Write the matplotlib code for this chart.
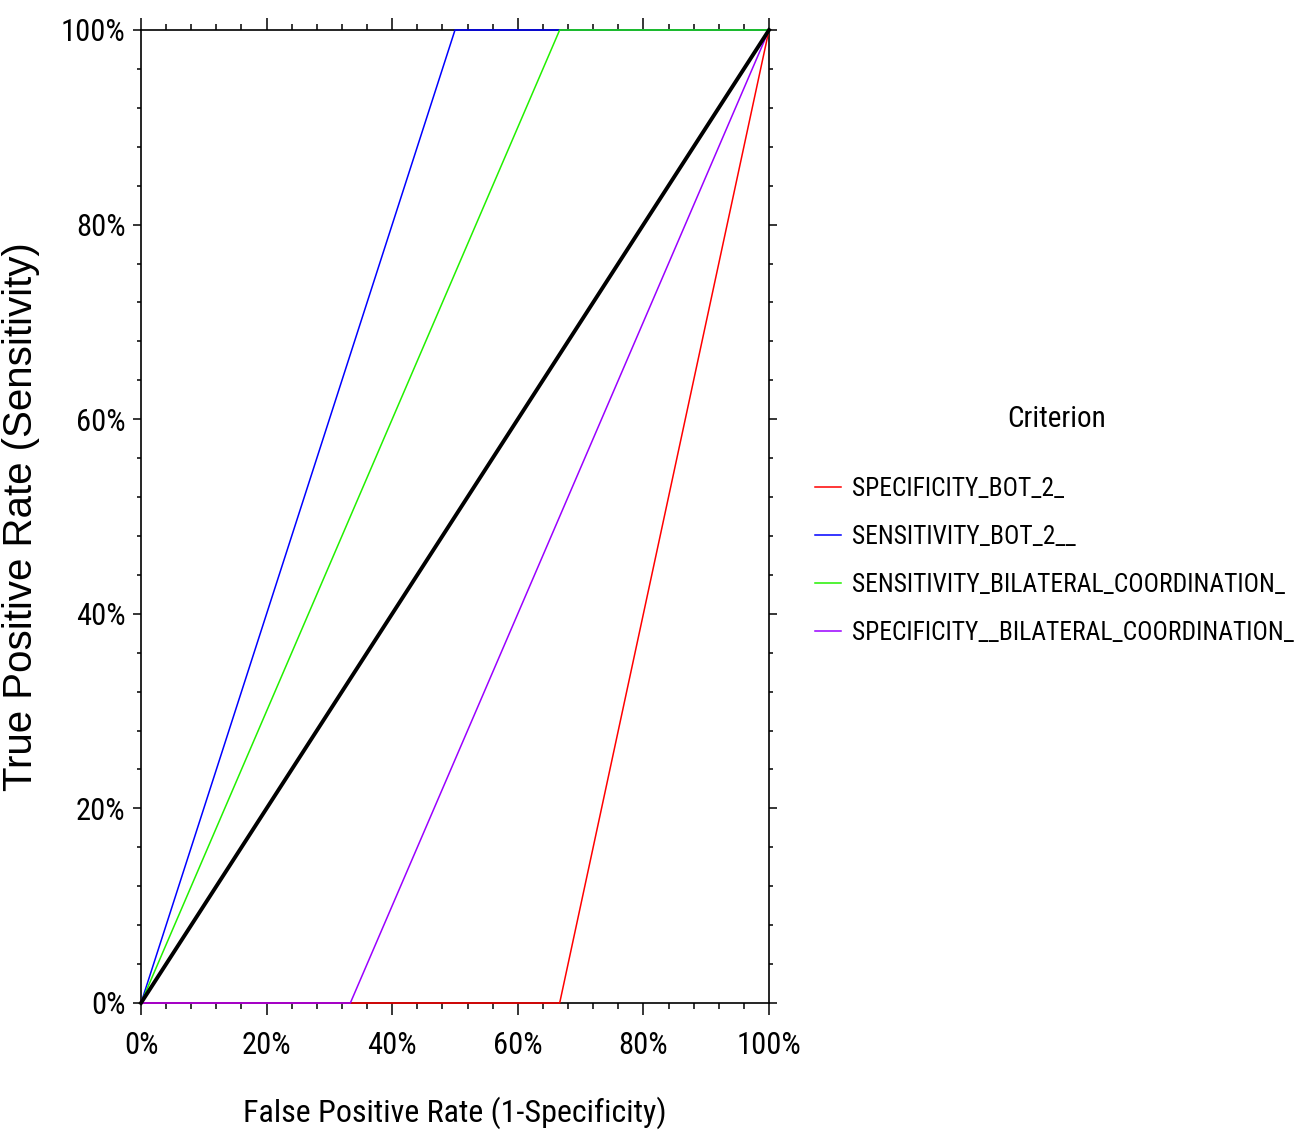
import matplotlib
matplotlib.use("Agg")
import matplotlib.pyplot as plt
from matplotlib import font_manager as fm
from matplotlib.ticker import MultipleLocator, PercentFormatter

# ROC curve points (false positive rate, true positive rate)
criteria = [
    "SPECIFICITY_BOT_2_",
    "SENSITIVITY_BOT_2__",
    "SENSITIVITY_BILATERAL_COORDINATION_",
    "SPECIFICITY__BILATERAL_COORDINATION_",
]
fpr = [
    [0.0, 2 / 3, 1.0],
    [0.0, 0.5, 1.0],
    [0.0, 2 / 3, 1.0],
    [0.0, 1 / 3, 1.0],
]
tpr = [
    [0.0, 0.0, 1.0],
    [0.0, 1.0, 1.0],
    [0.0, 1.0, 1.0],
    [0.0, 0.0, 1.0],
]
colors = ["#FF0000", "#0000FF", "#22F000", "#9A00FF"]
diag = [0.0, 1.0]

# pick a narrow font if one is around, else plain Liberation Sans a bit smaller
narrow_name = None
for cand in ["Roboto Condensed", "Liberation Sans Narrow", "Arial Narrow",
             "Archivo Narrow", "PT Sans Narrow", "Pragati Narrow"]:
    try:
        fm.findfont(fm.FontProperties(family=cand), fallback_to_default=False)
        narrow_name = cand
        break
    except ValueError:
        pass
scale = 1.0
if narrow_name is None:
    narrow_name = "Liberation Sans"
    scale = 0.82

plt.rcParams["font.family"] = [narrow_name, "DejaVu Sans"]

fig = plt.figure(figsize=(13.05, 11.35), dpi=100)
ax = fig.add_axes([141 / 1305, 1 - 1003 / 1135, 628 / 1305, 973 / 1135])

for x, y, c, name in zip(fpr, tpr, colors, criteria):
    ax.plot(x, y, color=c, lw=1.1, label=name, zorder=3, clip_on=False)
ax.plot(diag, diag, color="black", lw=2.8, zorder=4, clip_on=False)

ax.set_xlim(0, 1)
ax.set_ylim(0, 1)
ax.xaxis.set_major_locator(MultipleLocator(0.2))
ax.xaxis.set_minor_locator(MultipleLocator(0.04))
ax.yaxis.set_major_locator(MultipleLocator(0.2))
ax.yaxis.set_minor_locator(MultipleLocator(0.04))
ax.xaxis.set_major_formatter(PercentFormatter(1.0, decimals=0))
ax.yaxis.set_major_formatter(PercentFormatter(1.0, decimals=0))

ax.tick_params(axis="both", which="both", direction="out", top=True, right=True,
               width=1.1, labelsize=22 * scale)
ax.tick_params(axis="x", which="major", length=8.5, pad=12)
ax.tick_params(axis="x", which="minor", length=4)
ax.tick_params(axis="y", which="major", length=6, pad=5)
ax.tick_params(axis="y", which="minor", length=2.8)
for s in ax.spines.values():
    s.set_linewidth(1.2)

ax.set_xlabel("False Positive Rate (1-Specificity)", fontsize=23 * scale, labelpad=26)
ax.set_ylabel("True Positive Rate (Sensitivity)", fontsize=29,
              family=["Liberation Sans", "DejaVu Sans"])
# right edge of the rotated label sits near x=40px
ax.yaxis.set_label_coords((40 - 141) / 628, 0.5)

fs = 18.4 * scale
leg = ax.legend(loc="center left", bbox_to_anchor=(792 / 1305, 1 - 561 / 1135),
                bbox_transform=fig.transFigure, frameon=False, fontsize=fs,
                handlelength=1.0 / scale, handletextpad=0.46 / scale,
                labelspacing=0.95 / scale)
fig.text(1057 / 1305, 1 - 419 / 1135, "Criterion", ha="center", va="center",
         fontsize=21 * scale)

fig.savefig("out.png", dpi=100)
